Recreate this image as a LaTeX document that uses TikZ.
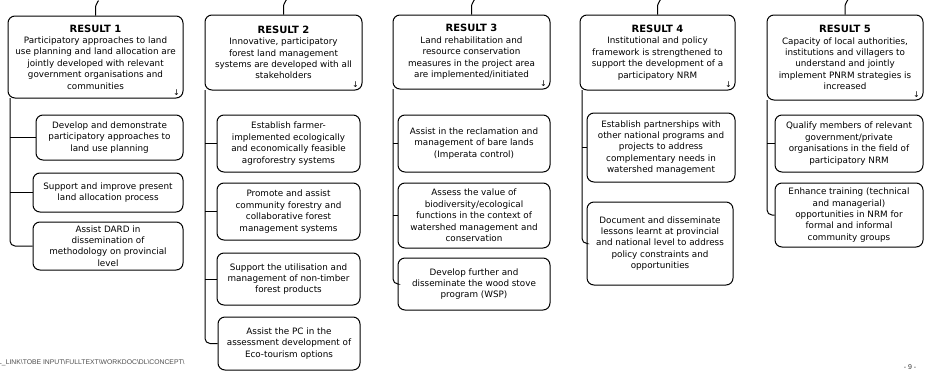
\documentclass[tikz,border=0pt]{standalone}
\usepackage{fontspec}
\setmainfont{DejaVu Sans}
\newfontfamily\footfont{Liberation Sans}
\tikzset{
  resultbox/.style={draw, fill=white, rounded corners=7pt, line width=1pt,
    align=center, inner sep=1pt, font=\fontsize{8.8}{11.4}\selectfont},
  taskbox/.style={resultbox},
  stem/.style={line width=1pt, rounded corners=5pt},
  turn/.style={font=\fontsize{8}{8}\selectfont, inner sep=0pt},
}
\newcommand{\rtitle}[1]{{\fontsize{10}{11.4}\selectfont\bfseries #1}}
\begin{document}
\begin{tikzpicture}[x=1pt,y=-1pt]
\useasboundingbox (0,0) rectangle (928,383);
% footer
\node[anchor=west, inner sep=0pt, text=black!70, font=\footfont\fontsize{6.8}{7}\selectfont] (path) at (-2,363)
  {L\_LINK\textbackslash TOBE INPUT\textbackslash FULLTEXT\textbackslash WORKDOC\textbackslash DL\textbackslash CONCEPT\textbackslash};
\node[inner sep=0pt, text=black!80, font=\footfont\fontsize{7}{7}\selectfont] (page) at (910,367) {- 9 -};
% results
\node[resultbox, minimum width=175pt, minimum height=82pt] (R1) at (95.5,57)
  {\rtitle{RESULT 1}\\Participatory approaches to land\\use planning and land allocation are\\jointly developed with relevant\\government organisations and\\communities};
\node[resultbox, minimum width=157pt, minimum height=75pt] (R2) at (283.5,52.5)
  {\rtitle{RESULT 2}\\Innovative, participatory\\forest land management\\systems are developed with all\\stakeholders};
\node[resultbox, minimum width=157pt, minimum height=74pt] (R3) at (471.5,52)
  {\rtitle{RESULT 3}\\Land rehabilitation and\\resource conservation\\measures in the project area\\are implemented/initiated};
\node[resultbox, minimum width=155pt, minimum height=75pt] (R4) at (657.5,52.5)
  {\rtitle{RESULT 4}\\Institutional and policy\\framework is strengthened to\\support the development of a\\participatory NRM};
\node[resultbox, minimum width=156pt, minimum height=85pt] (R5) at (845,57.5)
  {\rtitle{RESULT 5}\\Capacity of local authorities,\\institutions and villagers to\\understand and jointly\\implement PNRM strategies is\\increased};
\foreach \r in {R1,R2,R3,R4,R5}{
  \draw[line width=1pt] (\r.north) -- ++(0,-9) .. controls +(0,-3) and +(0,2) .. ++(3,-6);
  \node[turn] (\r t) at ([shift={(-7,-6)}]\r.south east) {↓};
}
% activities
\node[taskbox, minimum width=147pt, minimum height=45pt] (S1a) at (109.5,137.5)
  {Develop and demonstrate\\participatory approaches to\\land use planning};
\node[taskbox, minimum width=150pt, minimum height=39pt] (S1b) at (108,192.5)
  {Support and improve present\\land allocation process};
\node[taskbox, minimum width=150pt, minimum height=48pt] (S1c) at (108,246)
  {Assist DARD in\\dissemination of\\methodology on provincial\\level};
\node[taskbox, minimum width=143pt, minimum height=57pt] (S2a) at (288.5,143.5)
  {Establish farmer-\\implemented ecologically\\and economically feasible\\agroforestry systems};
\node[taskbox, minimum width=143pt, minimum height=57pt] (S2b) at (288.5,211.5)
  {Promote and assist\\community forestry and\\collaborative forest\\management systems};
\node[taskbox, minimum width=143pt, minimum height=52pt] (S2c) at (288.5,279)
  {Support the utilisation and\\management of non-timber\\forest products};
\node[taskbox, minimum width=142pt, minimum height=53pt] (S2d) at (289,343.5)
  {Assist the PC in the\\assessment development of\\Eco-tourism options};
\node[taskbox, minimum width=152pt, minimum height=57pt] (S3a) at (474,143.5)
  {Assist in the reclamation and\\management of bare lands\\(Imperata control)};
\node[taskbox, minimum width=152pt, minimum height=65pt] (S3b) at (474,215.5)
  {Assess the value of\\biodiversity/ecological\\functions in the context of\\watershed management and\\conservation};
\node[taskbox, minimum width=152pt, minimum height=52pt] (S3c) at (474,284)
  {Develop further and\\disseminate the wood stove\\program (WSP)};
\node[taskbox, minimum width=148pt, minimum height=69pt] (S4a) at (661,147.5)
  {Establish partnerships with\\other national programs and\\projects to address\\complementary needs in\\watershed management};
\node[taskbox, minimum width=146pt, minimum height=83pt] (S4b) at (660,243.5)
  {Document and disseminate\\lessons learnt at provincial\\and national level to address\\policy constraints and\\opportunities};
\node[taskbox, minimum width=148pt, minimum height=57pt] (S5a) at (849,143.5)
  {Qualify members of relevant\\government/private\\organisations in the field of\\participatory NRM};
\node[taskbox, minimum width=148pt, minimum height=64pt] (S5b) at (849,215)
  {Enhance training (technical\\and managerial)\\opportunities in NRM for\\formal and informal\\community groups};
% stems
\coordinate (c1) at (10,98);
\coordinate (c2) at (205,90);
\coordinate (c3) at (393,89);
\coordinate (c4) at (582,90);
\coordinate (c5) at (767,100);
\draw[stem] (c1) |- (S1c.west);
\draw[stem] (c1 |- S1a.west) -- (S1a.west);
\draw[stem] (c1 |- S1b.west) -- (S1b.west);
\draw[stem] (c2) |- (S2d.west);
\foreach \s in {S2a,S2b,S2c} \draw[stem] (c2 |- \s.west) -- (\s.west);
\draw[stem] (c3) |- (S3c.west);
\foreach \s in {S3a,S3b} \draw[stem] (c3 |- \s.west) -- (\s.west);
\draw[stem] (c4) |- (S4b.west);
\draw[stem] (c4 |- S4a.west) -- (S4a.west);
\draw[stem] (c5) |- (S5b.west);
\draw[stem] (c5 |- S5a.west) -- (S5a.west);
\end{tikzpicture}
\end{document}
